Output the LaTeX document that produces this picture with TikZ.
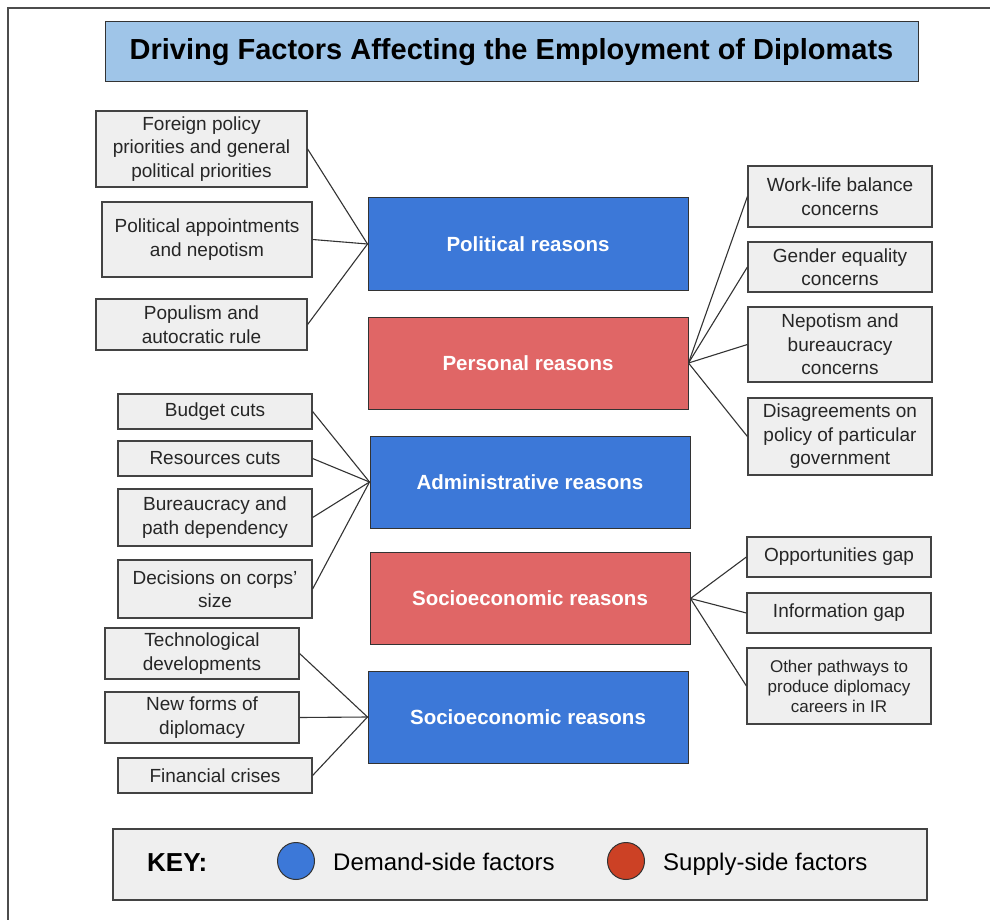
\documentclass[tikz,border=0pt]{standalone}
\usepackage{fontspec}
\setmainfont{Liberation Sans}
\usetikzlibrary{positioning}

\definecolor{demandblue}{HTML}{3C78D8}
\definecolor{supplyred}{HTML}{E06666}
\definecolor{keyred}{HTML}{CC4125}
\definecolor{titleblue}{HTML}{9FC5E8}
\definecolor{boxgray}{HTML}{EFEFEF}
\definecolor{linegray}{HTML}{434343}

\begin{document}
\begin{tikzpicture}
    [
    x=1pt, y=-1pt,
    factor/.style={draw=linegray, line width=1.2pt, fill=boxgray, align=center, inner sep=0pt, text=black!85, font=\fontsize{19}{23.5}\selectfont},
    reason/.style={draw=black!80, line width=1pt, minimum width=320pt, minimum height=92pt, inner sep=0pt, text=white, font=\bfseries\fontsize{20.5}{24}\selectfont},
    demand/.style={reason, fill=demandblue},
    supply/.style={reason, fill=supplyred},
    link/.style={draw=black!80, line width=1.1pt},
    keytext/.style={anchor=base west, inner sep=0pt, font=\fontsize{24}{28}\selectfont},
    ]

    \useasboundingbox (0,0) rectangle (990,920);
    \draw[line width=2pt, black!70] (8,920) -- (8,8) -- (990,8);

    \node[draw=black!80, line width=1pt, fill=titleblue, minimum width=813pt, minimum height=60pt, font=\bfseries\fontsize{29}{34}\selectfont] (title) at (511.5,52)
    {Driving Factors Affecting the Employment of Diplomats};

    % reasons in the middle column
    \node[demand] (rsn_political) at (528,244) {Political reasons};
    \node[supply] (rsn_personal) at (528,363) {Personal reasons};
    \node[demand] (rsn_admin) at (530,482) {Administrative reasons};
    \node[supply] (rsn_socio_supply) at (530,598.5) {Socioeconomic reasons};
    \node[demand] (rsn_socio_demand) at (528,717) {Socioeconomic reasons};

    % political
    \node[factor, minimum width=211pt, minimum height=76pt] (fac_foreign) at (201.5,149)
    {Foreign policy\\priorities and general\\political priorities};
    \node[factor, minimum width=210pt, minimum height=75pt] (fac_appointments) at (207,239.5)
    {Political appointments\\and nepotism};
    \node[factor, minimum width=211pt, minimum height=51pt] (fac_populism) at (201.5,324.5)
    {Populism and\\autocratic rule};

    \draw[link] (fac_foreign.east) -- (rsn_political.west);
    \draw[link] (fac_appointments.east) -- (rsn_political.west);
    \draw[link] (fac_populism.east) -- (rsn_political.west);

    % personal
    \node[factor, minimum width=184pt, minimum height=61pt] (fac_worklife) at (840,196.5)
    {Work-life balance\\concerns};
    \node[factor, minimum width=184pt, minimum height=50pt] (fac_gender) at (840,267)
    {Gender equality\\concerns};
    \node[factor, minimum width=184pt, minimum height=75pt] (fac_nepotism) at (840,344.5)
    {Nepotism and\\bureaucracy\\concerns};
    \node[factor, minimum width=184pt, minimum height=77pt] (fac_disagree) at (840,436.5)
    {Disagreements on\\policy of particular\\government};

    \draw[link] (rsn_personal.east) -- (fac_worklife.west);
    \draw[link] (rsn_personal.east) -- (fac_gender.west);
    \draw[link] (rsn_personal.east) -- (fac_nepotism.west);
    \draw[link] (rsn_personal.east) -- (fac_disagree.west);

    % administrative
    \node[factor, minimum width=194pt, minimum height=35pt] (fac_budget) at (215,411.5)
    {Budget cuts};
    \node[factor, minimum width=194pt, minimum height=35pt] (fac_resources) at (215,458.5)
    {Resources cuts};
    \node[factor, minimum width=194pt, minimum height=57pt] (fac_bureaucracy) at (215,517.5)
    {Bureaucracy and\\path dependency};
    \node[factor, minimum width=194pt, minimum height=58pt] (fac_corps) at (215,589)
    {Decisions on corps'\\size};

    \draw[link] (fac_budget.east) -- (rsn_admin.west);
    \draw[link] (fac_resources.east) -- (rsn_admin.west);
    \draw[link] (fac_bureaucracy.east) -- (rsn_admin.west);
    \draw[link] (fac_corps.east) -- (rsn_admin.west);

    % socioeconomic, supply side
    \node[factor, minimum width=184pt, minimum height=40pt] (fac_opportunities) at (839,557)
    {Opportunities gap};
    \node[factor, minimum width=184pt, minimum height=40pt] (fac_information) at (839,613)
    {Information gap};
    \node[factor, minimum width=184pt, minimum height=76pt, font=\fontsize{17}{20}\selectfont] (fac_pathways) at (839,686)
    {Other pathways to\\produce diplomacy\\careers in IR};

    \draw[link] (rsn_socio_supply.east) -- (fac_opportunities.west);
    \draw[link] (rsn_socio_supply.east) -- (fac_information.west);
    \draw[link] (rsn_socio_supply.east) -- (fac_pathways.west);

    % socioeconomic, demand side
    \node[factor, minimum width=194pt, minimum height=51pt] (fac_technology) at (202,653.5)
    {Technological\\developments};
    \node[factor, minimum width=194pt, minimum height=51pt] (fac_newforms) at (202,717.5)
    {New forms of\\diplomacy};
    \node[factor, minimum width=194pt, minimum height=35pt] (fac_crises) at (215,775.5)
    {Financial crises};

    \draw[link] (fac_technology.east) -- (rsn_socio_demand.west);
    \draw[link] (fac_newforms.east) -- (rsn_socio_demand.west);
    \draw[link] (fac_crises.east) -- (rsn_socio_demand.west);

    % key
    \node[factor, minimum width=814pt, minimum height=71pt] (key) at (520,864.5) {};
    \node[anchor=west, inner sep=0pt, font=\bfseries\fontsize{26}{30}\selectfont] (key_label) at (147,863) {KEY:};
    \node[circle, draw=black!80, line width=1pt, fill=demandblue, minimum size=37pt] (key_demand) at (296,861) {};
    \node[keytext] (key_demand_text) at (333,870) {Demand-side factors};
    \node[circle, draw=black!80, line width=1pt, fill=keyred, minimum size=37pt] (key_supply) at (626,861) {};
    \node[keytext] (key_supply_text) at (663,870) {Supply-side factors};
\end{tikzpicture}
\end{document}
